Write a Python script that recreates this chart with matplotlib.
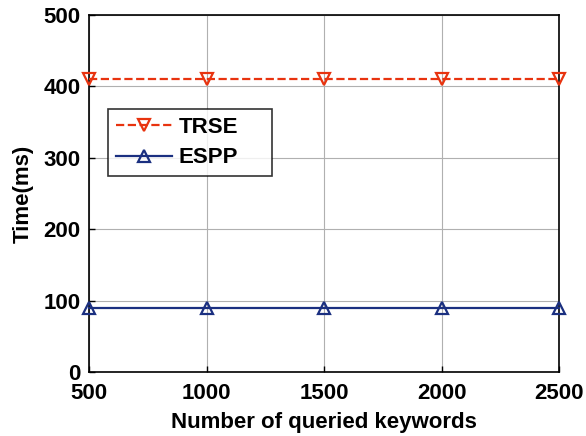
import matplotlib
matplotlib.use("Agg")
import matplotlib.pyplot as plt

keywords = [500, 1000, 1500, 2000, 2500]
trse = [410, 410, 410, 410, 410]
espp = [89, 89, 89, 89, 89]
xticks = [500, 1000, 1500, 2000, 2500]
yticks = [0, 100, 200, 300, 400, 500]

plt.rcParams['font.family'] = ['Liberation Sans', 'DejaVu Sans']
plt.rcParams['font.weight'] = 'bold'

W, H = 586, 436
fig = plt.figure(figsize=(W/100, H/100), dpi=100)
ax = fig.add_axes([89/W, 1 - 372/H, (559-89)/W, (372-15)/H])

ax.plot(keywords, trse, linestyle='--', color='#e8330f', linewidth=1.6,
        marker='v', markersize=8.5, markerfacecolor='none',
        markeredgewidth=1.6, label='TRSE', clip_on=False, zorder=3)
ax.plot(keywords, espp, linestyle='-', color='#1a2f80', linewidth=1.6,
        marker='^', markersize=8.5, markerfacecolor='none',
        markeredgewidth=1.6, label='ESPP', clip_on=False, zorder=3)

ax.set_xlim(500, 2500)
ax.set_ylim(0, 500)
ax.set_xticks(xticks)
ax.set_yticks(yticks)
ax.tick_params(labelsize=16, direction='in', length=4, width=1)
ax.tick_params(axis='x', pad=8)
ax.tick_params(axis='y', pad=6)
for lab in ax.get_xticklabels() + ax.get_yticklabels():
    lab.set_fontweight('bold')
ax.grid(True, color='#b0b0b0', linewidth=0.8, linestyle='-')
ax.set_axisbelow(True)
for s in ax.spines.values():
    s.set_linewidth(1.2)

ax.set_xlabel('Number of queried keywords', fontsize=16, fontweight='bold', labelpad=6)
ax.set_ylabel('Time(ms)', fontsize=16, fontweight='bold', labelpad=7)

# legend box spans a fixed region of the axes
aw, ah = 559 - 89, 372 - 15
lx0, lx1, ly0, ly1 = 108, 272, 109, 173
leg = ax.legend(loc='upper left',
                bbox_to_anchor=((lx0-89)/aw, 1 - (ly1-15)/ah, (lx1-lx0)/aw, (ly1-ly0)/ah),
                mode='expand', fontsize=16, frameon=True, fancybox=False,
                edgecolor='black', handlelength=2.5, handletextpad=0.32,
                borderpad=0.36, labelspacing=0.42, borderaxespad=0)
leg.get_frame().set_linewidth(1.2)
for t in leg.get_texts():
    t.set_fontweight('bold')

fig.savefig('out.png', dpi=100)
